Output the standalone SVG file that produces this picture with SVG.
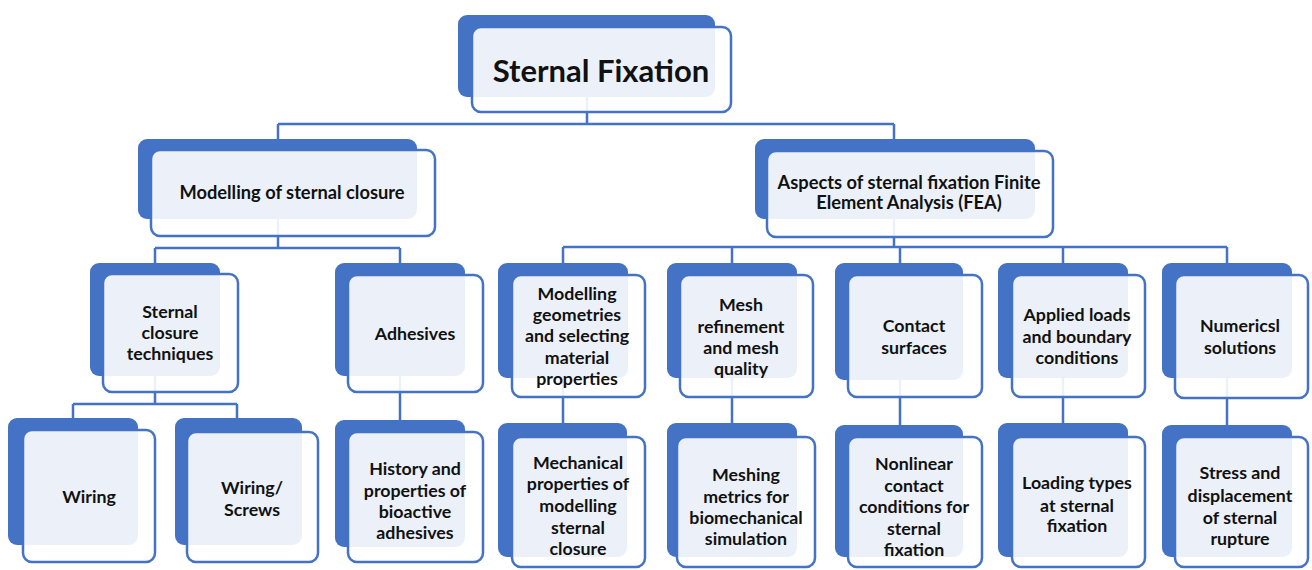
<svg xmlns="http://www.w3.org/2000/svg" width="1312" height="570" viewBox="0 0 1312 570">
<style>
.bk{fill:#4472C4;}
.fr{fill:#ffffff;fill-opacity:0.9;stroke:#4472C4;stroke-width:2.5;}
.cn{fill:none;stroke:#4472C4;stroke-width:2.5;}
text{font-family:Lato,"Liberation Sans",sans-serif;font-weight:bold;fill:#111;text-anchor:middle;dominant-baseline:central;font-size:17.8px;}
.t0{font-size:31px;}
.t1{font-size:18.3px;}
</style>
<rect width="1312" height="570" fill="#ffffff"/>
<g id="connectors">
<path class="cn" d="M587,90 V124 M278,124 H894 M278,124 V145 M894,124 V145"/>
<path class="cn" d="M278,210 V248 M155,248 H400 M155,248 V270 M400,248 V270"/>
<path class="cn" d="M894,210 V247 M563,247 H1227 M563,247 V270 M732,247 V270 M900,247 V270 M1063,247 V270 M1227,247 V270"/>
<path class="cn" d="M155,370 V404 M73,404 H237 M73,404 V425 M237,404 V425"/>
<path class="cn" d="M400,370 V428"/>
<path class="cn" d="M563,372 V430 M732,372 V430 M900,372 V430 M1063,372 V430 M1227,372 V430"/>
</g>
<g id="n-top"><rect class="bk" x="458" y="15" width="257" height="82" rx="9"/><rect class="fr" x="472" y="27" width="259" height="85" rx="9"/><text class="t0" x="601" y="70">Sternal Fixation</text></g>
<g id="n-modelling"><rect class="bk" x="138" y="139" width="279" height="80" rx="9"/><rect class="fr" x="151" y="150" width="284" height="86" rx="9"/><text class="t1" x="292" y="192">Modelling of sternal closure</text></g>
<g id="n-aspects"><rect class="bk" x="755" y="139" width="280" height="80" rx="9"/><rect class="fr" x="767" y="151" width="286" height="86" rx="9"/><text class="t1" x="909" y="182">Aspects of sternal fixation Finite</text><text class="t1" x="909" y="202">Element Analysis (FEA)</text></g>
<g id="n-techniques"><rect class="bk" x="90" y="263" width="130" height="113" rx="9"/><rect class="fr" x="103" y="274" width="135" height="118" rx="9"/><text x="170" y="311">Sternal</text><text x="170" y="332">closure</text><text x="170" y="353">techniques</text></g>
<g id="n-adhesives"><rect class="bk" x="335" y="263" width="130" height="113" rx="9"/><rect class="fr" x="348" y="275" width="135" height="117" rx="9"/><text x="415" y="333">Adhesives</text></g>
<g id="n-wiring"><rect class="bk" x="8" y="418" width="130" height="127" rx="9"/><rect class="fr" x="23" y="430" width="132" height="132" rx="9"/><text x="89" y="496">Wiring</text></g>
<g id="n-wiring-screws"><rect class="bk" x="175" y="418" width="127" height="127" rx="9"/><rect class="fr" x="187" y="432" width="131" height="130" rx="9"/><text x="252" y="487">Wiring/</text><text x="252" y="509">Screws</text></g>
<g id="n-history"><rect class="bk" x="335" y="420" width="130" height="127" rx="9"/><rect class="fr" x="348" y="432" width="135" height="130" rx="9"/><text x="415" y="468">History and</text><text x="415" y="490">properties of</text><text x="415" y="511">bioactive</text><text x="415" y="532">adhesives</text></g>
<g id="n-geometries"><rect class="bk" x="498" y="263" width="130" height="115" rx="9"/><rect class="fr" x="512" y="275" width="133" height="122" rx="9"/><text x="577" y="293">Modelling</text><text x="577" y="314">geometries</text><text x="577" y="335">and selecting</text><text x="577" y="357">material</text><text x="577" y="378">properties</text></g>
<g id="n-mesh"><rect class="bk" x="667" y="263" width="130" height="115" rx="9"/><rect class="fr" x="680" y="275" width="133" height="122" rx="9"/><text x="741" y="304">Mesh</text><text x="741" y="326">refinement</text><text x="741" y="347">and mesh</text><text x="741" y="368">quality</text></g>
<g id="n-contact"><rect class="bk" x="835" y="263" width="128" height="117" rx="9"/><rect class="fr" x="848" y="275" width="134" height="122" rx="9"/><text x="914" y="325">Contact</text><text x="914" y="347">surfaces</text></g>
<g id="n-applied"><rect class="bk" x="998" y="263" width="130" height="115" rx="9"/><rect class="fr" x="1012" y="275" width="133" height="122" rx="9"/><text x="1077" y="314">Applied loads</text><text x="1077" y="336">and boundary</text><text x="1077" y="357">conditions</text></g>
<g id="n-numerics"><rect class="bk" x="1162" y="263" width="130" height="115" rx="9"/><rect class="fr" x="1175" y="275" width="133" height="123" rx="9"/><text x="1240" y="325">Numericsl</text><text x="1240" y="347">solutions</text></g>
<g id="n-mechanical"><rect class="bk" x="498" y="423" width="129" height="134" rx="9"/><rect class="fr" x="512" y="437" width="133" height="130" rx="9"/><text x="578" y="462">Mechanical</text><text x="578" y="483">properties of</text><text x="578" y="505">modelling</text><text x="578" y="527">sternal</text><text x="578" y="548">closure</text></g>
<g id="n-meshing"><rect class="bk" x="667" y="423" width="130" height="134" rx="9"/><rect class="fr" x="677" y="437" width="138" height="130" rx="9"/><text x="746" y="474">Meshing</text><text x="746" y="496">metrics for</text><text x="746" y="517">biomechanical</text><text x="746" y="538">simulation</text></g>
<g id="n-nonlinear"><rect class="bk" x="835" y="425" width="128" height="132" rx="9"/><rect class="fr" x="848" y="437" width="134" height="130" rx="9"/><text x="914" y="463">Nonlinear</text><text x="914" y="485">contact</text><text x="914" y="506">conditions for</text><text x="914" y="528">sternal</text><text x="914" y="549">fixation</text></g>
<g id="n-loading"><rect class="bk" x="998" y="423" width="130" height="134" rx="9"/><rect class="fr" x="1012" y="437" width="133" height="130" rx="9"/><text x="1077" y="482">Loading types</text><text x="1077" y="505">at sternal</text><text x="1077" y="525">fixation</text></g>
<g id="n-stress"><rect class="bk" x="1162" y="425" width="130" height="132" rx="9"/><rect class="fr" x="1175" y="437" width="133" height="130" rx="9"/><text x="1240" y="472">Stress and</text><text x="1240" y="495">displacement</text><text x="1240" y="517">of sternal</text><text x="1240" y="538">rupture</text></g>
</svg>
